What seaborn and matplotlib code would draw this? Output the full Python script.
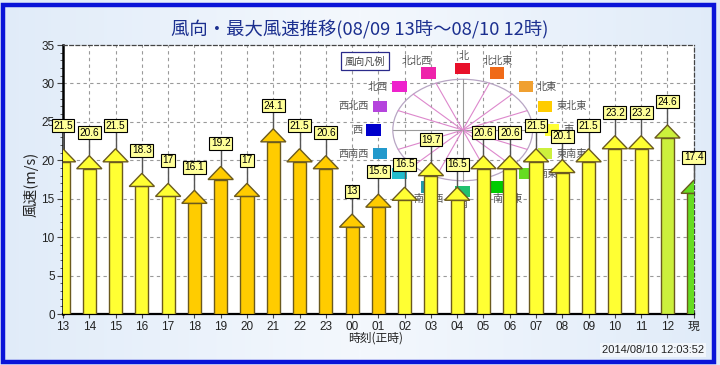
import numpy as np
import pandas as pd
import matplotlib
matplotlib.use("Agg")
import matplotlib.pyplot as plt
import seaborn as sns
from matplotlib.patches import Ellipse, Rectangle, Polygon

# ---------------- data ----------------
hours = ["13", "14", "15", "16", "17", "18", "19", "20", "21", "22", "23",
         "00", "01", "02", "03", "04", "05", "06", "07", "08", "09", "10",
         "11", "12", "現"]
speeds = [21.5, 20.6, 21.5, 18.3, 17, 16.1, 19.2, 17, 24.1, 21.5, 20.6,
          13, 15.6, 16.5, 19.7, 16.5, 20.6, 20.6, 21.5, 20.1, 21.5, 23.2,
          23.2, 24.6, 17.4]
directions = (["東"] * 5 + ["東北東"] * 8 + ["東"] * 10 + ["東南東", "南東"])

dir_names = ["北", "北北東", "北東", "東北東", "東", "東南東", "南東", "南南東",
             "南", "南南西", "南西", "西南西", "西", "西北西", "北西", "北北西"]
dir_colors = ["#E8102A", "#F06A18", "#F0A030", "#FFCC00", "#FFFF33", "#CCF03C",
              "#66DD22", "#00CC00", "#22C070", "#2299AA", "#22BBCC", "#2299CC",
              "#0000CC", "#B544DD", "#EE22CC", "#EE22AA"]

title = "風向・最大風速推移(08/09 13時～08/10 12時)"
ylabel = "風速(m/s)"
xlabel = "時刻(正時)"
stamp = "2014/08/10 12:03:52"
legend_title = "風向凡例"

# ---------------- style ----------------
sns.set_theme(style="white")
plt.rcParams["font.family"] = ["Liberation Sans", "Noto Sans CJK JP", "DejaVu Sans"]
JP = ["Noto Sans CJK JP", "DejaVu Sans"]

color_of = dict(zip(dir_names, dir_colors))
bar_colors = [color_of[d] for d in directions]

HEAD = 1.7      # arrow head length (data units)
HEADW = 0.48    # arrow half head width
df = pd.DataFrame({"hour": hours, "speed": speeds, "dir": directions})
df["shaft"] = df["speed"] - HEAD

fig = plt.figure(figsize=(7.2, 3.65), dpi=100)
fig.patch.set_facecolor("#E2ECF8")
# background gradient
bg = fig.add_axes([0, 0, 1, 1], zorder=-10)
grad = np.linspace(0, 1, 256)
gimg = np.outer(np.ones(10), 1 - 0.6 * np.abs(grad - 0.5) * 2)
bg.imshow(gimg, aspect="auto", cmap=matplotlib.colors.LinearSegmentedColormap.from_list(
    "g", ["#D3E3F6", "#F4F8FD"]), extent=[0, 1, 0, 1], vmin=0, vmax=1)
bg.set_axis_off()
fig.add_artist(Rectangle((0.004, 0.008), 0.988, 0.978, transform=fig.transFigure,
                         fill=False, ec="#0A14D8", lw=3.2, zorder=20))

ax = fig.add_axes([0.0875, 0.1397, 0.876, 0.737])
ax.set_facecolor("white")

# grid
ax.set_xlim(0, 24)
ax.set_ylim(0, 35)
for x in range(1, 24):
    ax.axvline(x, color="#9A9A9A", lw=0.8, ls=(0, (3, 3)), zorder=0)
for y in range(5, 35, 5):
    ax.axhline(y, color="#9A9A9A", lw=0.8, ls=(0, (3, 3)), zorder=0)

# -------- wind direction legend (compass) --------
cx, cy = 15.21, 23.94
rx, ry = 2.66, 6.6
ax.add_patch(Ellipse((cx, cy), 2 * rx, 2 * ry, fill=False, ec="#B8A6C4", lw=0.9, zorder=1))
for i in range(16):
    th = np.deg2rad(90 - 22.5 * i)
    col = "#9A9A9A" if i % 4 == 0 else "#DD88CC"
    ax.plot([cx, cx + rx * np.cos(th)], [cy, cy + ry * np.sin(th)], color=col, lw=0.8, zorder=1)
sq_rx, sq_ry = 3.4, 8.0
sw, sh = 0.55, 1.5
for i, (nm, c) in enumerate(zip(dir_names, dir_colors)):
    th = np.deg2rad(90 - 22.5 * i)
    px, py = cx + sq_rx * np.cos(th), cy + sq_ry * np.sin(th)
    ax.add_patch(Rectangle((px - sw / 2, py - sh / 2), sw, sh, fc=c, ec="none", zorder=1.5))
    if i in (0, 1, 15):
        tx, ty, ha, va = px + (-0.45 if i == 15 else 0.05), py + 1.6, "center", "center"
    elif 2 <= i <= 6:
        tx, ty, ha, va = px + sw / 2 + 0.15, py, "left", "center"
    elif 7 <= i <= 9:
        tx, ty, ha, va = px + (0.4 if i == 7 else 0), py - 1.6, "center", "center"
    else:
        tx, ty, ha, va = px - sw / 2 - 0.15, py, "right", "center"
    ax.text(tx, ty, nm, ha=ha, va=va, fontsize=7.3, color="#555555", family=JP, zorder=1.5)
ax.text(11.49, 32.9, legend_title, ha="center", va="center", fontsize=7.3, color="#444444",
        family=JP, zorder=1.5,
        bbox=dict(boxstyle="square,pad=0.35", fc="white", ec="#2A2A8A", lw=0.9))

# -------- arrows --------
sns.barplot(data=df, x="hour", y="shaft", hue="hour", palette=bar_colors, legend=False,
            width=0.5, edgecolor="#6B5A1E", linewidth=1.0, ax=ax, zorder=3, saturation=1)
ax.set_xlim(0, 24)
ax.set_ylim(0, 35)
for i, (v, c) in enumerate(zip(speeds, bar_colors)):
    ax.add_patch(Polygon([(i - HEADW, v - HEAD), (i, v), (i + HEADW, v - HEAD)], closed=True,
                         fc=c, ec="#6B5A1E", lw=1.0, zorder=3.5))
    ax.plot([i, i], [v, v + 2.4], color="#555555", lw=1.0, zorder=3.2, clip_on=False)
    ax.text(i, v + 3.0, f"{v:g}", ha="center", va="center", fontsize=7.3, color="black",
            zorder=5, clip_on=False,
            bbox=dict(boxstyle="square,pad=0.15", fc="#FFFF99", ec="black", lw=0.8))

# axes styling
ax.set_xticks(range(25))
ax.set_xticklabels(hours, fontsize=8.5, color="#222222")
ax.set_yticks(range(0, 36, 5))
ax.set_yticklabels([str(v) for v in range(0, 36, 5)], fontsize=8.5, color="#222222")
ax.set_yticks(range(0, 36), minor=True)
ax.tick_params(axis="y", which="major", length=4, width=0.8, color="#444444", pad=2, left=True)
ax.tick_params(axis="y", which="minor", length=2, width=0.6, color="#444444", left=True)
ax.tick_params(axis="x", which="major", length=3, width=0.8, color="#444444", pad=2, bottom=True)
ax.set_xlabel("")
ax.set_ylabel("")
ax.spines["left"].set_color("black")
ax.spines["left"].set_linewidth(1.8)
ax.spines["bottom"].set_color("black")
ax.spines["bottom"].set_linewidth(1.6)
ax.spines["bottom"].set_linestyle((0, (2, 1)))
for s in ("top", "right"):
    ax.spines[s].set_color("#444444")
    ax.spines[s].set_linewidth(0.9)
    ax.spines[s].set_linestyle((0, (3, 2)))

fig.text(0.5, 0.918, title, ha="center", va="center", fontsize=13.2, color="#1B2F8F",
         family=JP)
fig.text(0.043, 0.495, ylabel, ha="center", va="center", rotation=90, fontsize=10.5,
         color="#222222", family=JP)
fig.text(0.522, 0.074, xlabel, ha="center", va="center", fontsize=8.5, color="#222222",
         family=JP)
fig.text(0.978, 0.041, stamp, ha="right", va="center", fontsize=8, color="#222222",
         bbox=dict(boxstyle="square,pad=0.2", fc="#F2F6FB", ec="none"))

fig.savefig("out.png", dpi=100)
